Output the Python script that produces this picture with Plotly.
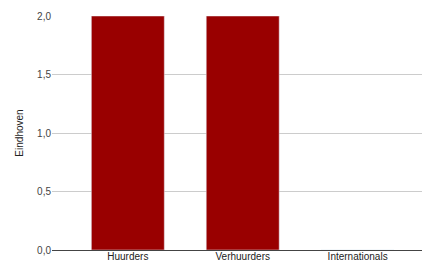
import plotly.graph_objects as go

categories = ["Huurders", "Verhuurders", "Internationals"]
values = [2, 2, 0]

fig = go.Figure(go.Bar(x=categories, y=values, marker_color="#990000", width=0.635))
fig.update_layout(
    width=422, height=255, margin=dict(l=44, r=0, t=8, b=13, autoexpand=False),
    plot_bgcolor="white", paper_bgcolor="white", separators=",.",
    font=dict(family="Liberation Sans, Arial", size=10, color="#222"),
    showlegend=False,
)
fig.update_xaxes(range=[-0.66, 2.63], showline=True, linecolor="#444", linewidth=1,
                 showgrid=False, ticks="", ticklabelstandoff=-3,
                 tickfont=dict(size=10, color="#222"))
fig.update_yaxes(range=[0, 2], tickvals=[0, 0.5, 1, 1.5, 2], tickformat=".1f",
                 gridcolor="#cccccc", zeroline=False, ticks="", ticklen=0,
                 title=dict(text="Eindhoven", font=dict(size=10, color="#222"), standoff=11),
                 tickfont=dict(size=10, color="#444"))
fig.write_html("out.html")
